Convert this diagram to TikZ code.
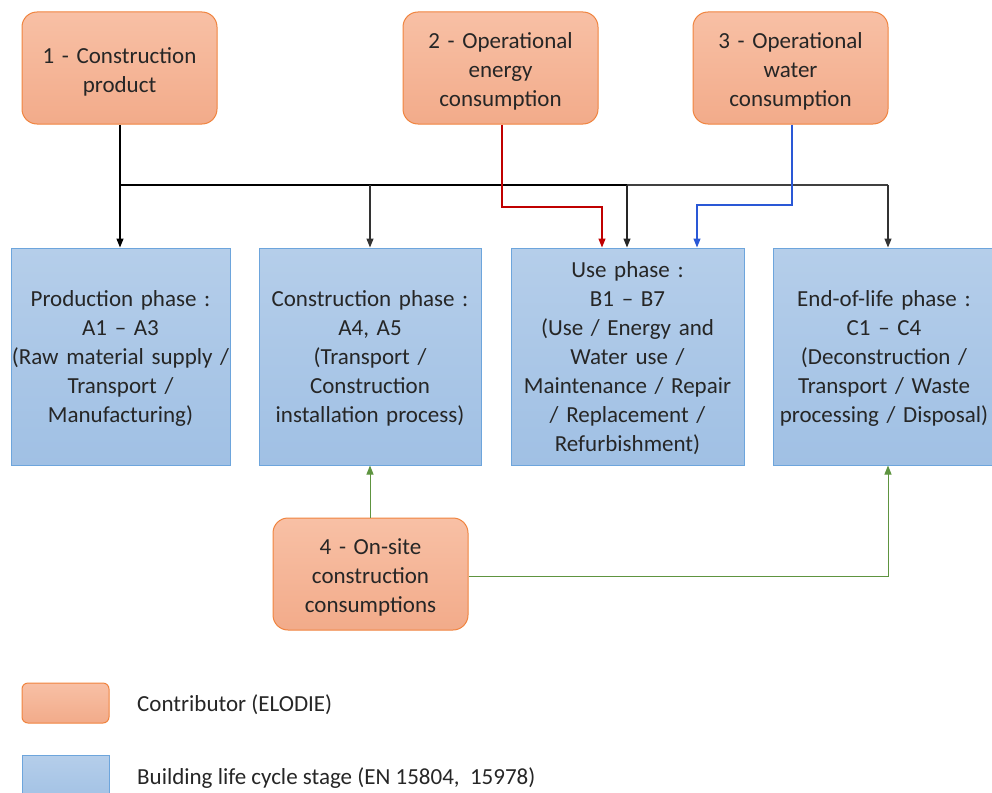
\documentclass[tikz,border=0pt]{standalone}
\usepackage{fontspec}
\setmainfont{Carlito}
\usetikzlibrary{arrows.meta}
\definecolor{orfill1}{HTML}{F8C0A5}
\definecolor{orfill2}{HTML}{F2AB8A}
\definecolor{ordraw}{HTML}{F0843F}
\definecolor{blfill1}{HTML}{B5CEEA}
\definecolor{blfill2}{HTML}{A0C0E4}
\definecolor{bldraw}{HTML}{6DA5DC}
\definecolor{redline}{HTML}{C00000}
\definecolor{blueline}{HTML}{2A58D6}
\definecolor{greenline}{HTML}{5E9440}
\definecolor{txt}{HTML}{262626}
\tikzset{
  contrib/.style={draw=ordraw, line width=1pt, top color=orfill1, bottom color=orfill2,
    rounded corners=15pt, minimum width=195pt, minimum height=112pt, text width=195pt,
    inner sep=0pt, align=center, text=txt, font=\fontsize{23pt}{29pt}\selectfont,
    execute at begin node={\rule{0pt}{23pt}}},
  stage/.style={draw=bldraw, line width=1pt, top color=blfill1, bottom color=blfill2,
    minimum height=217pt, inner sep=0pt, align=center, text=txt,
    font=\fontsize{23pt}{29pt}\selectfont, execute at begin node={\rule{0pt}{20pt}}},
  arr/.style={line width=1.3pt, -{Triangle[length=9pt,width=7pt]}},
  legtext/.style={anchor=west, text=txt, font=\fontsize{23pt}{24pt}\selectfont, inner sep=0pt}
}
\begin{document}
\begin{tikzpicture}[x=1pt,y=-1pt]
\useasboundingbox (0,0) rectangle (992,792);
% contributors
\node[contrib] (c1) at (119.5,68) {1 - Construction\\product};
\node[contrib] (c2) at (500.5,68) {2 - Operational\\energy\\consumption};
\node[contrib] (c3) at (790.5,68) {3 - Operational\\water\\consumption};
\node[contrib] (c4) at (370.5,574) {4 - On-site\\construction\\consumptions};
% stages
\node[stage, minimum width=219pt, text width=219pt] (pA) at (120.5,356.5) {Production phase :\\A1 -- A3\\(Raw material supply /\\Transport /\\Manufacturing)};
\node[stage, minimum width=222pt, text width=222pt] (pB) at (370,356.5) {Construction phase :\\A4, A5\\(Transport /\\Construction\\installation process)};
\node[stage, minimum width=233pt, text width=233pt] (pC) at (627.5,356.5) {Use phase :\\B1 -- B7\\(Use / Energy and\\Water use /\\Maintenance / Repair\\/ Replacement /\\Refurbishment)};
\node[stage, minimum width=222pt, text width=222pt] (pD) at (884,356.5) {End-of-life phase :\\C1 -- C4\\(Deconstruction /\\Transport / Waste\\processing / Disposal)};
% black distribution
\coordinate (j1) at (120,185);
\coordinate (j2) at (370,185);
\coordinate (j3) at (627,185);
\coordinate (j4) at (888,185);
\draw[line width=1.6pt, black] (c1.south -| j1) -- (j1) -- (j3);
\draw[line width=1.3pt, black!75] (j3) -- (j4);
\draw[arr, black] (j1) -- (j1 |- pA.north);
\draw[arr, black!80] (j2) -- (j2 |- pB.north);
\draw[arr, black!85] (j3) -- (j3 |- pC.north);
\draw[arr, black!80] (j4) -- (j4 |- pD.north);
% red and blue
\coordinate (r1) at (502,207);
\coordinate (r2) at (602,207);
\draw[arr, redline] (c2.south -| r1) -- (r1) -- (r2) -- (r2 |- pC.north);
\coordinate (b1) at (792,205);
\coordinate (b2) at (697,205);
\draw[arr, blueline] (c3.south -| b1) -- (b1) -- (b2) -- (b2 |- pC.north);
% green
\coordinate (g1) at (888,576);
\draw[arr, greenline, line width=1pt] (c4.north -| pB.south) -- (pB.south);
\draw[arr, greenline, line width=1pt] (c4.east |- g1) -- (g1) -- (g1 |- pD.south);
% legend
\node[draw=ordraw, line width=1pt, top color=orfill1, bottom color=orfill2, rounded corners=6pt,
  minimum width=87pt, minimum height=40pt, inner sep=0pt] (lo) at (65.5,703) {};
\node[draw=bldraw, line width=1pt, top color=blfill1, bottom color=blfill2,
  minimum width=87pt, minimum height=50pt, inner sep=0pt] (lb) at (65.5,780) {};
\node[legtext] (lot) at (137,705) {Contributor (ELODIE)};
\node[legtext] (lbt) at (137,778) {Building life cycle stage (EN 15804,~ 15978)};
\end{tikzpicture}
\end{document}
